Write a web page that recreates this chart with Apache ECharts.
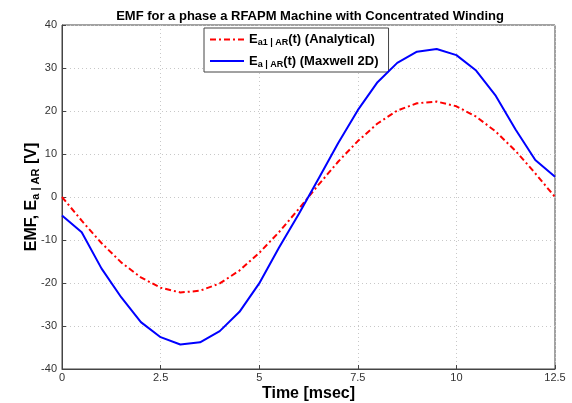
<!DOCTYPE html>
<html><head><meta charset="utf-8">
<script src="https://cdn.jsdelivr.net/npm/echarts@6/dist/echarts.min.js"></script>
<style>html,body{margin:0;padding:0;background:#fff}#c{width:572px;height:403px}</style>
</head><body><div id="c"></div>
<script>
const timeMs = [0,0.5,1,1.5,2,2.5,3,3.5,4,4.5,5,5.5,6,6.5,7,7.5,8,8.5,9,9.5,10,10.5,11,11.5,12,12.5];
const analytical = [0,-5.5,-10.7,-15.2,-18.7,-21.1,-22.2,-21.8,-20.1,-17.1,-13.0,-8.2,-2.8,2.8,8.2,13.0,17.1,20.1,21.8,22.2,21.1,18.7,15.2,10.7,5.5,0];
const maxwell = [-4.3,-8.2,-16.6,-23.3,-29.1,-32.6,-34.3,-33.8,-31.2,-26.7,-20.1,-11.8,-4.0,4.2,12.5,20.2,26.7,31.2,33.8,34.4,33.0,29.4,23.5,15.7,8.6,4.7];
const xTicks = [0,2.5,5,7.5,10,12.5];
const yTicks = [-40,-30,-20,-10,0,10,20,30,40];

const F = 'Liberation Sans, Arial, sans-serif';
const chart = echarts.init(document.getElementById('c'));
const pairs = (ys) => timeMs.map((t,i)=>[t,ys[i]]);
const rich = {
  n:{fontFamily:F,fontSize:13,fontWeight:'bold',color:'#000'},
  s:{fontFamily:F,fontSize:9,fontWeight:'bold',color:'#000',verticalAlign:'bottom',padding:[7,0,0,0]}
};
chart.setOption({
  animation:false,
  title:{text:'EMF for a phase a RFAPM Machine with Concentrated Winding',left:305,top:5,textAlign:'center',
    textStyle:{fontFamily:F,fontSize:13,fontWeight:'bold',color:'#000'}},
  grid:{left:62,right:17,top:25,bottom:34,show:true,borderColor:'#444',borderWidth:1,backgroundColor:'#fff',
    outerBoundsMode:'none',containLabel:false},
  legend:{orient:'vertical',left:204,top:28,itemWidth:34,itemHeight:10,itemGap:7,
    padding:[5,10,3,5],backgroundColor:'#fff',borderColor:'#444',borderWidth:1,borderRadius:0,
    selectedMode:false,
    itemStyle:{opacity:0},
    data:['an','mx'],
    formatter:(n)=> n==='an' ? '{n|E}{s|a1 | AR}{n|(t) (Analytical)}' : '{n|E}{s|a | AR}{n|(t) (Maxwell 2D)}',
    textStyle:{rich:rich}},
  xAxis:{type:'value',min:0,max:12.5,interval:2.5,
    name:'Time [msec]',nameLocation:'middle',nameGap:17,nameMoveOverlap:false,
    nameTextStyle:{fontFamily:F,fontSize:16,fontWeight:'bold',color:'#000'},
    axisLine:{show:true,onZero:false,lineStyle:{color:'#444'}},
    axisTick:{show:true,inside:true,length:4,lineStyle:{color:'#444'}},
    axisLabel:{fontFamily:F,fontSize:11,color:'#333',margin:3,formatter:(v)=>String(v)},
    splitLine:{show:true,lineStyle:{color:'#c8c8c8',type:[1,3]}}},
  yAxis:{type:'value',min:-40,max:40,interval:10,
    name:'{n|EMF, E}{s|a | AR}{n| [V]}',nameLocation:'middle',nameGap:21,nameRotate:90,nameMoveOverlap:false,
    nameTextStyle:{rich:{
      n:{fontFamily:F,fontSize:16,fontWeight:'bold',color:'#000'},
      s:{fontFamily:F,fontSize:11,fontWeight:'bold',color:'#000',verticalAlign:'bottom',padding:[8,0,0,0]}}},
    axisLine:{show:true,onZero:false,lineStyle:{color:'#444'}},
    axisTick:{show:true,inside:true,length:4,lineStyle:{color:'#444'}},
    axisLabel:{fontFamily:F,fontSize:11,color:'#333',margin:5},
    splitLine:{show:true,lineStyle:{color:'#c8c8c8',type:[1,3]}}},
  series:[
    {name:'an',type:'line',data:pairs(analytical),showSymbol:false,symbol:'none',smooth:false,
      lineStyle:{color:'#ff0000',width:2,type:[6,3,2,3]},itemStyle:{color:'#ff0000'},z:3},
    {name:'mx',type:'line',data:pairs(maxwell),showSymbol:false,symbol:'none',
      lineStyle:{color:'#0000ff',width:2},itemStyle:{color:'#0000ff'},z:4}
  ]
});
</script></body></html>
